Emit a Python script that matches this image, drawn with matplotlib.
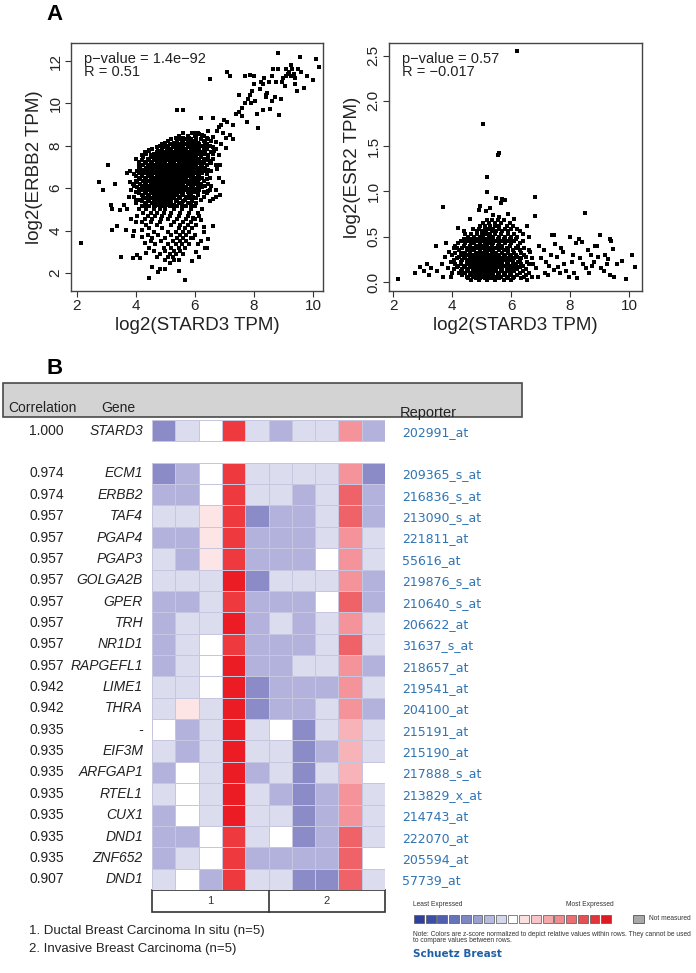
import numpy as np
import matplotlib
matplotlib.use("Agg")
from matplotlib import pyplot as plt
from matplotlib.colors import ListedColormap, BoundaryNorm
from matplotlib.patches import Rectangle

plt.rcParams['font.family'] = ['Liberation Sans', 'DejaVu Sans']

# ---------------- panel A data ----------------
# dense part of STARD3 vs ERBB2 cloud: (ERBB2 level, [STARD3 values])
erbb2_bands = [
    (8.6, [5.6, 5.9, 6.1]),
    (8.45, [5.45, 5.75, 6.0, 6.3]),
    (8.375, [5.35, 5.6, 5.8, 6.05, 6.4]),
    (8.3, [5.2, 5.5, 5.65, 5.85, 6.2, 6.45]),
    (8.225, [5.1, 5.4, 5.6, 5.75, 5.9, 6.05, 6.3, 6.55]),
    (8.15, [5.0, 5.3, 5.55, 5.8, 5.95, 6.1, 6.35]),
    (8.075, [4.9, 5.15, 5.35, 5.5, 5.65, 5.85, 6.0, 6.15, 6.4]),
    (8.0, [4.8, 5.1, 5.25, 5.4, 5.6, 5.75, 5.9, 6.05, 6.25, 6.5]),
    (7.925, [4.7, 4.95, 5.1, 5.25, 5.45, 5.6, 5.8, 5.95, 6.1, 6.3, 6.6]),
    (7.85, [4.55, 4.9, 5.05, 5.2, 5.35, 5.5, 5.7, 5.85, 6.0, 6.15, 6.4, 6.7]),
    (7.775, [4.45, 4.75, 4.9, 5.05, 5.2, 5.4, 5.55, 5.7, 5.85, 6.0, 6.15, 6.35]),
    (7.7, [4.3, 4.7, 4.85, 5.0, 5.15, 5.3, 5.45, 5.6, 5.75, 5.9, 6.05, 6.2, 6.55]),
    (7.625, [4.35, 4.6, 4.75, 4.9, 5.05, 5.2, 5.35, 5.5, 5.65, 5.8, 5.95, 6.1, 6.3, 6.6]),
    (7.55, [4.2, 4.5, 4.65, 4.8, 4.95, 5.1, 5.25, 5.4, 5.55, 5.7, 5.85, 6.0, 6.2, 6.45, 6.8]),
    (7.475, [4.25, 4.5, 4.7, 4.85, 5.0, 5.15, 5.3, 5.45, 5.6, 5.75, 5.9, 6.05, 6.2, 6.45]),
    (7.4, [4.4, 4.6, 4.75, 4.9, 5.05, 5.2, 5.35, 5.5, 5.65, 5.8, 5.95, 6.1, 6.3, 6.6]),
    (7.325, [4.2, 4.45, 4.65, 4.8, 4.95, 5.1, 5.25, 5.4, 5.55, 5.7, 5.85, 6.0, 6.15, 6.4]),
    (7.25, [4.1, 4.35, 4.55, 4.7, 4.85, 5.0, 5.15, 5.3, 5.45, 5.6, 5.75, 5.9, 6.05, 6.25, 6.5]),
    (7.175, [4.3, 4.5, 4.7, 4.85, 5.0, 5.15, 5.3, 5.5, 5.65, 5.8, 5.95, 6.1, 6.3, 6.55]),
    (7.1, [4.25, 4.45, 4.6, 4.8, 4.95, 5.1, 5.25, 5.4, 5.55, 5.7, 5.85, 6.0, 6.2, 6.4, 6.7]),
    (7.025, [4.1, 4.4, 4.55, 4.7, 4.9, 5.0, 5.15, 5.3, 5.45, 5.6, 5.75, 5.9, 6.05, 6.25]),
    (6.95, [4.15, 4.35, 4.5, 4.65, 4.8, 4.95, 5.05, 5.2, 5.35, 5.5, 5.65, 5.8, 5.95, 6.15, 6.35]),
    (6.875, [4.2, 4.4, 4.55, 4.7, 4.85, 5.0, 5.1, 5.25, 5.4, 5.55, 5.7, 5.85, 6.0, 6.2, 6.45]),
    (6.8, [4.05, 4.3, 4.45, 4.6, 4.75, 4.9, 5.0, 5.15, 5.3, 5.45, 5.6, 5.75, 5.9, 6.1, 6.3, 6.55]),
    (6.725, [4.1, 4.3, 4.5, 4.65, 4.8, 4.9, 5.05, 5.2, 5.35, 5.5, 5.65, 5.8, 6.0, 6.25]),
    (6.65, [3.95, 4.2, 4.4, 4.55, 4.7, 4.85, 4.95, 5.1, 5.25, 5.4, 5.55, 5.7, 5.9, 6.1, 6.4]),
    (6.575, [4.0, 4.2, 4.4, 4.55, 4.7, 4.85, 5.0, 5.15, 5.3, 5.45, 5.6, 5.75, 5.95, 6.15]),
    (6.5, [4.1, 4.3, 4.5, 4.65, 4.8, 4.9, 5.05, 5.2, 5.35, 5.5, 5.65, 5.85, 6.0, 6.25, 6.5]),
    (6.425, [4.15, 4.35, 4.55, 4.7, 4.85, 4.95, 5.1, 5.25, 5.4, 5.55, 5.7, 5.9, 6.15, 6.4]),
    (6.35, [4.0, 4.25, 4.45, 4.6, 4.75, 4.9, 5.0, 5.15, 5.3, 5.45, 5.6, 5.8, 6.05, 6.3]),
    (6.275, [4.05, 4.3, 4.5, 4.65, 4.8, 4.9, 5.05, 5.2, 5.35, 5.5, 5.65, 5.9, 6.1]),
    (6.2, [3.9, 4.15, 4.35, 4.55, 4.7, 4.85, 4.95, 5.1, 5.25, 5.4, 5.55, 5.75, 6.0, 6.2, 6.45]),
    (6.125, [4.2, 4.4, 4.6, 4.75, 4.9, 5.0, 5.15, 5.3, 5.45, 5.6, 5.85, 6.1, 6.35]),
    (6.05, [4.05, 4.3, 4.5, 4.65, 4.8, 4.95, 5.05, 5.2, 5.35, 5.5, 5.7, 5.95, 6.25]),
    (5.975, [4.1, 4.35, 4.55, 4.7, 4.85, 5.0, 5.1, 5.25, 5.4, 5.55, 5.8, 6.05]),
    (5.9, [3.85, 4.2, 4.4, 4.6, 4.75, 4.9, 5.0, 5.15, 5.3, 5.45, 5.65, 5.9, 6.15, 6.5]),
    (5.825, [4.0, 4.3, 4.5, 4.65, 4.8, 4.95, 5.05, 5.2, 5.35, 5.5, 5.75, 6.0, 6.3]),
    (5.75, [4.1, 4.35, 4.55, 4.7, 4.85, 5.0, 5.1, 5.25, 5.4, 5.6, 5.85, 6.1, 6.4]),
    (5.675, [4.2, 4.4, 4.6, 4.75, 4.9, 5.05, 5.2, 5.35, 5.55, 5.8, 6.1]),
    (5.6, [3.95, 4.25, 4.45, 4.65, 4.8, 4.95, 5.1, 5.25, 5.45, 5.7, 5.95, 6.3, 6.7]),
    (5.525, [4.3, 4.5, 4.7, 4.85, 5.0, 5.15, 5.3, 5.5, 5.8, 6.05]),
    (5.45, [4.15, 4.4, 4.6, 4.75, 4.9, 5.05, 5.2, 5.4, 5.65, 5.9, 6.2]),
    (5.375, [4.2, 4.45, 4.65, 4.8, 4.95, 5.1, 5.35, 5.6, 5.9]),
    (5.3, [4.0, 4.3, 4.55, 4.7, 4.85, 5.0, 5.2, 5.45, 5.75, 6.05]),
    (5.225, [4.35, 4.6, 4.75, 4.9, 5.05, 5.3, 5.55, 5.85]),
    (5.15, [4.2, 4.45, 4.65, 4.8, 4.95, 5.15, 5.4, 5.7, 6.0]),
    (5.0, [4.1, 4.35, 4.6, 4.8, 5.0, 5.3, 5.55, 5.85, 6.25]),
    (4.85, [4.25, 4.5, 4.7, 4.95, 5.2, 5.5, 5.8, 6.1]),
    (4.7, [4.05, 4.4, 4.65, 4.9, 5.15, 5.45, 5.75, 6.15]),
    (4.55, [4.3, 4.55, 4.85, 5.1, 5.4, 5.7, 6.0]),
    (4.4, [4.2, 4.5, 4.8, 5.3, 5.6, 5.85]),
    (4.25, [4.35, 4.7, 5.2, 5.5, 5.75, 6.05]),
    (4.1, [4.45, 4.9, 5.45, 5.65, 5.9]),
    (3.95, [4.6, 5.1, 5.35, 5.6, 5.8, 6.3]),
    (3.8, [4.4, 4.75, 5.2, 5.5, 5.7, 6.0]),
    (3.65, [4.55, 5.0, 5.4, 5.6, 5.85]),
    (3.5, [4.5, 4.85, 5.25, 5.5, 5.7, 6.2]),
    (3.35, [4.65, 5.1, 5.35, 5.55, 5.8]),
    (3.2, [4.45, 4.95, 5.2, 5.45, 5.65, 6.4]),
    (3.05, [4.6, 5.0, 5.3, 5.5]),
    (2.9, [4.8, 5.15, 5.35, 5.6]),
    (2.75, [4.7, 5.1, 5.25]),
    (2.6, [5.0, 5.45]),
]
# sparse points: (STARD3, ERBB2)
erbb2_sparse = [
    (2.15, 3.4), (2.75, 6.3), (2.9, 5.9), (3.05, 7.1), (3.15, 5.2), (3.2, 5.0),
    (3.2, 4.05), (3.3, 6.2), (3.35, 4.2), (3.45, 4.95), (3.5, 2.75), (3.6, 5.2),
    (3.65, 4.05), (3.7, 6.7), (3.8, 6.8), (3.75, 5.6), (3.9, 2.7), (4.0, 4.4),
    (4.05, 2.85), (4.1, 5.0), (4.15, 2.7), (3.9, 3.75), (3.95, 4.0), (3.85, 4.55),
    (4.45, 1.75), (4.55, 2.3), (4.75, 2.05), (4.8, 2.2), (5.0, 2.2), (5.15, 2.45),
    (5.45, 2.1), (5.65, 1.65), (5.3, 2.6), (5.9, 2.55), (6.35, 3.2), (6.1, 3.35),
    (6.3, 4.15), (6.6, 4.2), (6.6, 5.5), (6.5, 5.4), (6.85, 5.7), (6.8, 6.5),
    (6.85, 7.1), (5.4, 9.7), (5.6, 9.7), (6.5, 11.15), (7.1, 11.5), (7.2, 11.3),
    (6.8, 8.9), (6.9, 9.0), (7.0, 9.2), (7.1, 9.1), (7.2, 8.5), (7.3, 8.3),
    (7.4, 9.5), (7.5, 9.6), (7.6, 9.4), (7.6, 9.8), (7.7, 10.0), (7.75, 9.1),
    (7.8, 10.2), (7.85, 10.4), (7.9, 10.0), (7.95, 10.6), (8.0, 10.9), (8.0, 11.3),
    (8.05, 10.1), (8.1, 9.5), (8.15, 8.85), (8.2, 10.7), (8.25, 11.0), (8.3, 9.7),
    (8.35, 11.2), (8.4, 10.4), (8.45, 10.5), (8.5, 11.0), (8.55, 9.75), (8.6, 10.1),
    (8.65, 11.6), (8.7, 10.3), (8.75, 11.0), (8.8, 12.4), (8.8, 11.6), (8.85, 9.45),
    (8.9, 10.2), (8.95, 11.0), (9.0, 11.2), (9.05, 10.8), (9.1, 11.6), (9.15, 11.4),
    (9.2, 11.5), (9.25, 11.3), (9.3, 11.6), (9.35, 11.4), (9.4, 11.2), (9.45, 10.6),
    (9.5, 11.6), (9.55, 12.2), (9.6, 11.5), (9.7, 10.75), (9.8, 11.3), (10.0, 11.1),
    (10.1, 12.1), (10.2, 11.7), (9.25, 11.8), (8.4, 10.3), (8.3, 10.9), (7.85, 11.35),
    (7.7, 11.3), (7.5, 10.4), (7.3, 9.0), (7.05, 8.35), (6.95, 8.6), (6.75, 8.7),
    (6.7, 8.2), (6.6, 8.4), (6.45, 8.7), (6.4, 8.05), (6.3, 7.8), (6.25, 8.5),
    (6.15, 8.55), (6.2, 9.3), (6.6, 9.3), (6.05, 8.6), (9.4, 10.9), (9.1, 11.3),
    (8.6, 11.3), (4.45, 7.8), (4.3, 7.6), (4.0, 7.4), (3.95, 6.1), (3.7, 5.0),
    (6.95, 6.3), (6.7, 5.9), (6.45, 3.6), (6.05, 3.0), (5.95, 4.6),
    (6.5, 7.3), (6.65, 7.75), (6.75, 6.9), (6.55, 6.1), (6.45, 5.85), (6.9, 8.1),
    (7.05, 7.9), (4.0, 5.45), (3.8, 6.3), (4.1, 6.9), (4.2, 4.05), (4.3, 3.4),
    (4.35, 2.95), (4.2, 3.7), (6.15, 2.75), (5.95, 3.65), (6.2, 4.5),
]

# dense part of STARD3 vs ESR2 cloud: (ESR2 level, [STARD3 values])
esr2_bands = [
    (0.68, [5.2, 5.35, 5.55, 5.75]),
    (0.65, [5.05, 5.25, 5.45, 5.65, 5.95]),
    (0.62, [4.95, 5.1, 5.3, 5.45, 5.6, 5.85, 6.05, 6.55]),
    (0.59, [4.7, 4.9, 5.1, 5.25, 5.4, 5.6, 5.8, 6.0, 6.2]),
    (0.56, [4.4, 4.85, 5.0, 5.15, 5.35, 5.5, 5.7, 5.9, 6.3]),
    (0.53, [4.45, 4.65, 4.85, 5.0, 5.15, 5.3, 5.45, 5.65, 5.9, 6.1, 6.4]),
    (0.5, [4.55, 4.75, 4.95, 5.05, 5.25, 5.4, 5.6, 5.8, 6.0, 6.2]),
    (0.475, [4.4, 4.6, 4.8, 4.9, 5.1, 5.2, 5.35, 5.55, 5.75, 5.95, 6.15]),
    (0.45, [4.3, 4.5, 4.7, 4.85, 5.0, 5.15, 5.3, 5.5, 5.65, 5.85, 6.1, 6.4]),
    (0.425, [4.2, 4.45, 4.65, 4.75, 4.95, 5.1, 5.25, 5.4, 5.6, 5.8, 6.0, 6.3]),
    (0.4, [4.1, 4.4, 4.6, 4.8, 4.9, 5.05, 5.2, 5.35, 5.55, 5.7, 5.95, 6.25]),
    (0.375, [4.15, 4.35, 4.55, 4.7, 4.85, 5.0, 5.15, 5.3, 5.45, 5.65, 5.85, 6.15, 6.45]),
    (0.35, [4.25, 4.5, 4.65, 4.75, 4.95, 5.1, 5.25, 5.4, 5.6, 5.75, 5.9, 6.05, 6.3, 6.6]),
    (0.325, [4.1, 4.3, 4.45, 4.6, 4.8, 4.9, 5.05, 5.2, 5.35, 5.5, 5.7, 5.9, 6.1, 6.35]),
    (0.3, [4.0, 4.35, 4.55, 4.7, 4.85, 5.0, 5.15, 5.3, 5.45, 5.6, 5.8, 6.0, 6.15, 6.45]),
    (0.28, [4.25, 4.4, 4.65, 4.75, 4.95, 5.1, 5.25, 5.4, 5.55, 5.75, 5.95, 6.2, 6.5]),
    (0.26, [4.15, 4.45, 4.6, 4.8, 4.9, 5.05, 5.2, 5.35, 5.5, 5.65, 5.85, 6.1, 6.35, 6.7]),
    (0.24, [4.05, 4.35, 4.55, 4.7, 4.85, 5.0, 5.15, 5.3, 5.45, 5.6, 5.8, 6.0, 6.3]),
    (0.22, [3.95, 4.3, 4.5, 4.65, 4.75, 4.95, 5.1, 5.25, 5.4, 5.55, 5.7, 5.9, 6.05, 6.25, 6.55]),
    (0.2, [4.1, 4.3, 4.5, 4.65, 4.8, 4.9, 5.05, 5.2, 5.35, 5.5, 5.65, 5.85, 6.1, 6.35, 6.6]),
    (0.18, [4.2, 4.4, 4.6, 4.7, 4.85, 5.0, 5.15, 5.3, 5.45, 5.6, 5.75, 5.95, 6.15, 6.4]),
    (0.16, [4.15, 4.45, 4.65, 4.8, 4.95, 5.1, 5.25, 5.4, 5.55, 5.65, 5.9, 6.1, 6.3]),
    (0.14, [4.05, 4.35, 4.55, 4.75, 4.9, 5.05, 5.2, 5.35, 5.5, 5.7, 5.85, 6.0, 6.2, 6.5]),
    (0.12, [4.3, 4.5, 4.7, 4.85, 5.0, 5.15, 5.3, 5.45, 5.65, 5.9, 6.1, 6.4]),
    (0.1, [4.25, 4.45, 4.65, 4.8, 4.95, 5.1, 5.25, 5.4, 5.6, 5.8, 6.0, 6.3, 6.6]),
    (0.08, [4.35, 4.6, 4.75, 4.9, 5.05, 5.2, 5.35, 5.55, 5.75, 5.95, 6.2, 6.5]),
    (0.06, [4.5, 4.7, 4.85, 5.0, 5.15, 5.3, 5.5, 5.65, 5.9, 6.1, 6.45]),
    (0.04, [4.55, 4.8, 4.95, 5.1, 5.25, 5.4, 5.6, 5.85, 6.05, 6.35]),
    (0.02, [4.65, 4.9, 5.2, 5.45, 5.75, 6.0, 6.55]),
]
# sparse points: (STARD3, ESR2)
esr2_sparse = [
    (6.2, 2.55), (5.05, 1.74), (5.55, 1.4), (5.6, 1.42), (5.2, 1.16), (5.2, 0.99),
    (3.7, 0.83), (8.5, 0.76), (6.8, 0.94), (6.8, 0.73), (5.5, 0.93), (5.7, 0.92),
    (5.8, 0.9), (5.65, 0.87), (4.95, 0.84), (4.9, 0.8), (5.9, 0.75), (6.1, 0.7),
    (5.15, 0.78), (5.4, 0.74), (4.6, 0.7), (5.6, 0.72), (5.3, 0.82),
    (2.15, 0.03), (2.75, 0.1), (2.9, 0.17), (3.05, 0.12), (3.15, 0.2), (3.2, 0.08),
    (3.3, 0.15), (3.45, 0.4), (3.5, 0.12), (3.65, 0.2), (3.7, 0.05), (3.75, 0.28),
    (3.8, 0.43), (3.85, 0.15), (3.9, 0.33), (9.9, 0.03), (10.1, 0.3), (10.2, 0.16),
    (9.75, 0.23), (9.6, 0.2), (9.5, 0.05), (9.4, 0.45), (9.35, 0.47), (9.45, 0.36),
    (9.3, 0.25), (9.2, 0.3), (9.0, 0.52), (8.9, 0.4), (8.8, 0.22),
    (6.6, 0.5), (6.75, 0.2), (6.85, 0.15), (6.9, 0.05), (7.0, 0.27), (7.1, 0.35),
    (7.15, 0.1), (7.25, 0.08), (7.3, 0.18), (7.4, 0.52), (7.45, 0.52), (7.45, 0.13),
    (7.5, 0.42), (7.55, 0.28), (7.6, 0.16), (7.65, 0.1), (7.7, 0.37), (7.75, 0.33),
    (7.8, 0.2), (7.85, 0.12), (7.95, 0.05), (8.0, 0.5), (8.05, 0.22), (8.1, 0.3),
    (8.15, 0.1), (8.2, 0.43), (8.3, 0.47), (8.35, 0.26), (8.4, 0.44), (8.45, 0.2),
    (8.55, 0.15), (8.6, 0.35), (8.65, 0.1), (8.7, 0.3), (8.75, 0.18), (8.85, 0.4),
    (8.95, 0.28), (9.05, 0.15), (9.15, 0.12), (9.25, 0.2), (9.35, 0.08), (7.2, 0.22),
    (8.25, 0.04), (6.95, 0.4), (7.35, 0.3),
    (4.0, 0.1), (4.05, 0.38), (3.95, 0.05), (4.2, 0.6), (6.7, 0.06), (6.65, 0.33),
]

# ---------------- panel B data ----------------
correlations = ["1.000", "0.974", "0.974", "0.957", "0.957", "0.957", "0.957", "0.957",
                "0.957", "0.957", "0.957", "0.942", "0.942", "0.935", "0.935", "0.935",
                "0.935", "0.935", "0.935", "0.935", "0.907"]
genes = ["STARD3", "ECM1", "ERBB2", "TAF4", "PGAP4", "PGAP3", "GOLGA2B", "GPER", "TRH",
         "NR1D1", "RAPGEFL1", "LIME1", "THRA", "-", "EIF3M", "ARFGAP1", "RTEL1", "CUX1",
         "DND1", "ZNF652", "DND1"]
reporters = ["202991_at", "209365_s_at", "216836_s_at", "213090_s_at", "221811_at",
             "55616_at", "219876_s_at", "210640_s_at", "206622_at", "31637_s_at",
             "218657_at", "219541_at", "204100_at", "215191_at", "215190_at",
             "217888_s_at", "213829_x_at", "214743_at", "222070_at", "205594_at",
             "57739_at"]
# colour level per cell (-3 darkest blue ... 6 brightest red), 10 samples per row
expression = [
    [-3, -1, 0, 5, -1, -2, -1, -1, 3, -2],
    [-3, -2, 0, 5, -1, -1, -1, -1, 3, -3],
    [-2, -2, 0, 5, -1, -1, -2, -1, 4, -2],
    [-1, -1, 1, 5, -3, -2, -2, -1, 4, -2],
    [-2, -2, 1, 5, -2, -2, -2, -1, 3, -1],
    [-1, -2, 1, 5, -2, -2, -2, 0, 3, -1],
    [-1, -1, -1, 6, -3, -1, -1, -1, 3, -2],
    [-2, -2, -1, 5, -2, -2, -2, 0, 4, -2],
    [-2, -1, -1, 6, -2, -1, -2, -1, 3, -1],
    [-2, -1, 0, 5, -2, -2, -2, -1, 4, -1],
    [-2, -1, 0, 6, -2, -2, -1, -1, 3, -2],
    [-1, -1, 0, 6, -3, -2, -2, -2, 3, -1],
    [-1, 1, -1, 6, -3, -2, -2, -1, 3, -2],
    [0, -2, -1, 6, -1, 0, -3, -1, 2, -1],
    [-1, -2, -1, 6, -1, -1, -3, -2, 2, -1],
    [-2, 0, -1, 6, -2, -1, -3, -1, 2, 0],
    [-1, 0, -1, 6, -1, -2, -3, -2, 3, -1],
    [-2, 0, -1, 6, -1, -1, -3, -2, 3, -1],
    [-2, -2, 0, 5, -1, 0, -3, -2, 4, -1],
    [-2, -1, 0, 5, -2, -2, -2, -2, 4, 0],
    [-1, 0, -2, 5, -1, -1, -3, -3, 4, -1],
]
level_colors = ["#8b8bc7", "#b2b2dc", "#dcdcef", "#ffffff", "#fde5e5",
                "#f7b3b7", "#f4939a", "#ef6267", "#ee3a3f", "#ec1c24"]
groups = ["1", "2"]
group_notes = ["1. Ductal Breast Carcinoma In situ (n=5)",
               "2. Invasive Breast Carcinoma (n=5)"]
scale_colors = ["#2e3f9e", "#3d4ea6", "#5060ae", "#6673b8", "#7d88c3", "#9aa0d0",
                "#b7bbde", "#d5d7ec", "#ffffff", "#fbe0e0", "#f7c5c7", "#f3a9ac",
                "#ef8c90", "#eb6e73", "#e65055", "#e2343a", "#de1a22"]

W, H = 696, 973
fig = plt.figure(figsize=(W / 100, H / 100), dpi=100)


def px_axes(x0, y0, x1, y1):
    return fig.add_axes([x0 / W, 1 - y1 / H, (x1 - x0) / W, (y1 - y0) / H])


def unpack(bands, sparse):
    xs, ys = [], []
    for y, row in bands:
        xs += row
        ys += [y] * len(row)
    xs += [p[0] for p in sparse]
    ys += [p[1] for p in sparse]
    return np.array(xs), np.array(ys)


def scatter_panel(ax, x, y, xlim, ylim, yticks, ylabel, ptxt, rtxt):
    ax.scatter(x, y, s=5, marker="s", c="black", linewidths=0)
    ax.set_xlim(*xlim)
    ax.set_ylim(*ylim)
    ax.set_xticks([2, 4, 6, 8, 10])
    ax.set_yticks(yticks)
    ax.tick_params(direction="out", length=4, width=0.8, pad=2, colors="#333333",
                   labelsize=11, labelcolor="#222222")
    for sp in ax.spines.values():
        sp.set_color("#444444")
        sp.set_linewidth(1.0)
    ax.set_xlabel("log2(STARD3 TPM)", fontsize=13.5, color="#222222", labelpad=3)
    ax.set_ylabel(ylabel, fontsize=13.5, color="#222222", labelpad=4)
    ax.text(0.05, 0.965, ptxt + "\n" + rtxt, transform=ax.transAxes, fontsize=10.5,
            va="top", ha="left", linespacing=0.95, color="#222222")


canvas = px_axes(0, 0, W, H)
canvas.set_xlim(0, W)
canvas.set_ylim(H, 0)
canvas.axis("off")

ax1 = px_axes(71, 43, 323, 291)
x1, y1 = unpack(erbb2_bands, erbb2_sparse)
scatter_panel(ax1, x1, y1, (1.8, 10.34), (1.15, 12.85), [2, 4, 6, 8, 10, 12],
              "log2(ERBB2 TPM)", "p\u2212value = 1.4e\u221292", "R = 0.51")

ax2 = px_axes(389, 43, 642, 291)
x2, y2 = unpack(esr2_bands, esr2_sparse)
scatter_panel(ax2, x2, y2, (1.86, 10.44), (-0.1, 2.64), [0.0, 0.5, 1.0, 1.5, 2.0, 2.5],
              "log2(ESR2 TPM)", "p\u2212value = 0.57", "R = \u22120.017")
ax2.set_yticklabels(["0.0", "0.5", "1.0", "1.5", "2.0", "2.5"])
for ax in (ax1, ax2):
    for lab in ax.get_yticklabels():
        lab.set_rotation(90)
        lab.set_va("center")

canvas.text(46, 14, "A", fontsize=16, fontweight="bold", va="center", ha="left")
canvas.text(46, 368, "B", fontsize=16, fontweight="bold", va="center", ha="left")

# header band
canvas.add_patch(Rectangle((3, 383), 519, 34, facecolor="#d3d3d3", edgecolor="#4a4a4a", lw=1.2))
canvas.text(8, 408, "Correlation", fontsize=10, va="center", ha="left", color="#222222")
canvas.text(101, 408, "Gene", fontsize=10, va="center", ha="left", color="#222222")
canvas.text(400, 413, "Reporter", fontsize=10.5, va="center", ha="left", color="#222222")

# heatmap
row_h = 470 / 22
hm = px_axes(152, 420, 385, 890)
cmap = ListedColormap(level_colors)
norm = BoundaryNorm(np.arange(-3.5, 7.5, 1), cmap.N)
data = np.array(expression)
hm.pcolormesh(np.arange(11), [0, 1], data[:1], cmap=cmap, norm=norm,
              edgecolors="#c6c6e0", linewidth=0.6)
hm.pcolormesh(np.arange(11), np.arange(2, 23), data[1:], cmap=cmap, norm=norm,
              edgecolors="#c6c6e0", linewidth=0.6)
hm.set_xlim(0, 10)
hm.set_ylim(22, 0)
hm.axis("off")

for i, (c, g, r) in enumerate(zip(correlations, genes, reporters)):
    slot = 0 if i == 0 else i + 1
    yc = 420 + (slot + 0.5) * row_h
    canvas.text(29, yc, c, fontsize=10, va="center", ha="left", color="#222222")
    canvas.text(143, yc, g, fontsize=10, va="center", ha="right", style="italic", color="#222222")
    canvas.text(402, yc + 1.5, r, fontsize=9, va="center", ha="left", color="#2f74b5",
                family="DejaVu Sans")

# group bar
canvas.add_patch(Rectangle((152, 890), 233, 22, facecolor="white", edgecolor="#333333", lw=1.2))
canvas.plot([268.5, 268.5], [890, 912], color="#333333", lw=1.2)
for k, g in enumerate(groups):
    canvas.text(152 + 233 * (k + 0.5) / 2, 901, g, fontsize=8, va="center", ha="center",
                color="#333333")
for k, t in enumerate(group_notes):
    canvas.text(29, 931 + 18 * k, t, fontsize=9.5, va="center", ha="left", color="#222222")

# colour key
for k, col in enumerate(scale_colors):
    canvas.add_patch(Rectangle((414 + k * 11.7, 915), 9.8, 8, facecolor=col,
                               edgecolor="#555555", lw=0.5))
canvas.add_patch(Rectangle((633, 915), 11, 8, facecolor="#a8a8a8", edgecolor="#555555", lw=0.6))
canvas.text(413, 905, "Least Expressed", fontsize=4.8, va="center", ha="left", color="#333333")
canvas.text(566, 905, "Most Expressed", fontsize=4.8, va="center", ha="left", color="#333333")
canvas.text(649, 919, "Not measured", fontsize=4.8, va="center", ha="left", color="#333333")
canvas.text(413, 934, "Note: Colors are z-score normalized to depict relative values within rows. "
            "They cannot be used", fontsize=4.8, va="center", ha="left", color="#333333")
canvas.text(413, 941, "to compare values between rows.", fontsize=4.8, va="center", ha="left",
            color="#333333")
canvas.text(413, 954, "Schuetz Breast", fontsize=7.5, va="center", ha="left",
            color="#1f5fa6", fontweight="bold", family="DejaVu Sans")

fig.savefig("out.png", dpi=100)
